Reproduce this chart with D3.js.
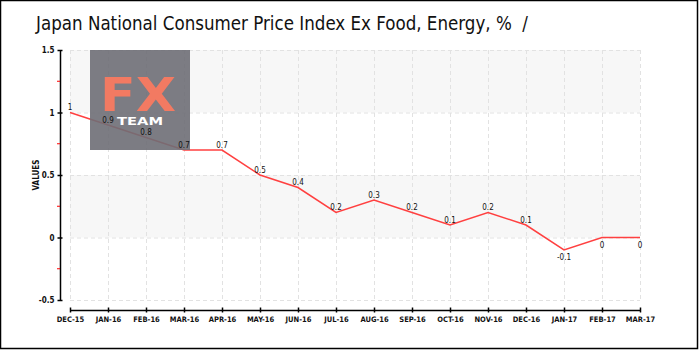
<!doctype html>
<html lang="en">
  <head>
    <meta charset="utf-8" />
    <title>Japan National CPI Ex Food, Energy</title>
    <style>
      body { margin: 0; background: #fff; }
      text { font-family: "DejaVu Sans Condensed", "DejaVu Sans", sans-serif; }
    </style>
  </head>
  <body>
    <div id="my_dataviz"></div>
    <script src="https://d3js.org/d3.v7.min.js"></script>
    <script>
// chart data
var months = ["DEC-15", "JAN-16", "FEB-16", "MAR-16", "APR-16", "MAY-16", "JUN-16", "JUL-16",
              "AUG-16", "SEP-16", "OCT-16", "NOV-16", "DEC-16", "JAN-17", "FEB-17", "MAR-17"];
var values = [1, 0.9, 0.8, 0.7, 0.7, 0.5, 0.4, 0.2, 0.3, 0.2, 0.1, 0.2, 0.1, -0.1, 0, 0];
var yTicks = [-0.5, 0, 0.5, 1, 1.5];
var yMinorTicks = [-0.25, 0.25, 0.75, 1.25];

var width = 700, height = 350;

var svg = d3.select("#my_dataviz")
  .append("svg")
    .attr("width", width)
    .attr("height", height);

// outer frame
svg.append("rect")
  .attr("x", 0.5).attr("y", 0.5)
  .attr("width", 697).attr("height", 348)
  .attr("fill", "#fff")
  .attr("stroke", "#000")
  .attr("stroke-width", 1.5);

// title
svg.append("text")
  .attr("x", 36).attr("y", 30)
  .attr("textLength", 492)
  .attr("lengthAdjust", "spacingAndGlyphs")
  .style("font-family", "'DejaVu Sans Condensed', sans-serif")
  .style("font-size", "20px")
  .style("white-space", "pre")
  .attr("fill", "#111")
  .text("Japan National Consumer Price Index Ex Food, Energy, %  /");

// scales
var x = d3.scalePoint()
    .domain(months)
    .range([70, 640]);

var y = d3.scaleLinear()
    .domain([-0.5, 1.5])
    .range([300, 50]);

// alternating bands
var bands = [[1, 1.5], [0, 0.5]];
svg.append("g")
  .selectAll("rect")
  .data(bands)
  .enter()
  .append("rect")
    .attr("x", x.range()[0])
    .attr("width", x.range()[1] - x.range()[0])
    .attr("y", function(d) { return y(d[1]); })
    .attr("height", function(d) { return y(d[0]) - y(d[1]); })
    .attr("fill", "#f7f7f7");

// grid lines
var grid = svg.append("g")
  .attr("stroke", "#e2e2e2")
  .attr("stroke-dasharray", "4,3");

grid.selectAll(".h")
  .data(yTicks)
  .enter()
  .append("line")
    .attr("x1", x.range()[0]).attr("x2", x.range()[1])
    .attr("y1", function(d) { return y(d) + 0.5; })
    .attr("y2", function(d) { return y(d) + 0.5; });

grid.selectAll(".v")
  .data(months)
  .enter()
  .append("line")
    .attr("x1", function(d) { return x(d) + 0.5; })
    .attr("x2", function(d) { return x(d) + 0.5; })
    .attr("y1", y(1.5)).attr("y2", y(-0.5));

// y axis
var yAxis = svg.append("g")
  .attr("transform", "translate(60.5,0)")
  .call(d3.axisLeft(y).tickValues(yTicks).tickSize(3).tickPadding(3)
    .tickFormat(function(d) { return d; }));
yAxis.select(".domain").attr("d", "M0," + y(1.5) + "V" + y(-0.5)).attr("stroke-width", 1.5);
yAxis.selectAll(".tick line").attr("x1", 2).attr("x2", -3).attr("stroke-width", 1.5);
yAxis.selectAll("text")
  .style("font-size", "8px")
  .style("font-weight", "bold")
  .attr("fill", "#111");

svg.append("g")
  .selectAll("line")
  .data(yMinorTicks)
  .enter()
  .append("line")
    .attr("x1", 57).attr("x2", 60)
    .attr("y1", function(d) { return y(d); })
    .attr("y2", function(d) { return y(d); })
    .attr("stroke", "red");

svg.append("text")
  .attr("transform", "translate(39," + y(0.5) + ") rotate(-90)")
  .attr("text-anchor", "middle")
  .style("font-size", "8px")
  .style("font-weight", "bold")
  .attr("fill", "#111")
  .text("VALUES");

// x axis
var xAxis = svg.append("g")
  .attr("transform", "translate(0,310.5)")
  .call(d3.axisBottom(x).tickSize(3).tickPadding(3));
xAxis.select(".domain").attr("d", "M" + x.range()[0] + ",0H" + x.range()[1]).attr("stroke-width", 1.5);
xAxis.selectAll(".tick line").attr("y1", -3).attr("y2", 2).attr("stroke-width", 1.5);
xAxis.selectAll("text")
  .style("font-size", "7.5px")
  .style("font-weight", "bold")
  .attr("fill", "#111");

// the series line
var line = d3.line()
  .x(function(d, i) { return x(months[i]); })
  .y(function(d) { return y(d); });

svg.append("path")
  .datum(values)
  .attr("fill", "none")
  .attr("stroke", "#ff4040")
  .attr("stroke-width", 1.5)
  .attr("d", line);

// watermark logo
var logo = svg.append("g")
  .attr("transform", "translate(90,50)");
logo.append("rect")
  .attr("width", 100).attr("height", 100)
  .attr("fill", "#6e6e76")
  .attr("opacity", 0.9);
logo.append("text")
  .attr("x", 10).attr("y", 61)
  .attr("textLength", 76)
  .attr("lengthAdjust", "spacingAndGlyphs")
  .style("font-family", "'DejaVu Sans', sans-serif")
  .style("font-size", "46px")
  .style("font-weight", "bold")
  .attr("fill", "#f27a62")
  .text("FX");
logo.append("text")
  .attr("x", 27).attr("y", 75)
  .attr("textLength", 46)
  .attr("lengthAdjust", "spacingAndGlyphs")
  .style("font-family", "'DejaVu Sans', sans-serif")
  .style("font-size", "11px")
  .style("font-weight", "bold")
  .attr("fill", "#fff")
  .text("TEAM");

// value labels
svg.append("g")
  .selectAll("text")
  .data(values)
  .enter()
  .append("text")
    .attr("x", function(d, i) { return x(months[i]); })
    .attr("y", function(d) { return d > 0 ? y(d) - 2.5 : y(d) + 10; })
    .attr("text-anchor", "middle")
    .style("font-size", "8px")
    .attr("fill", "#111")
    .text(function(d) { return d; });
    </script>
  </body>
</html>
